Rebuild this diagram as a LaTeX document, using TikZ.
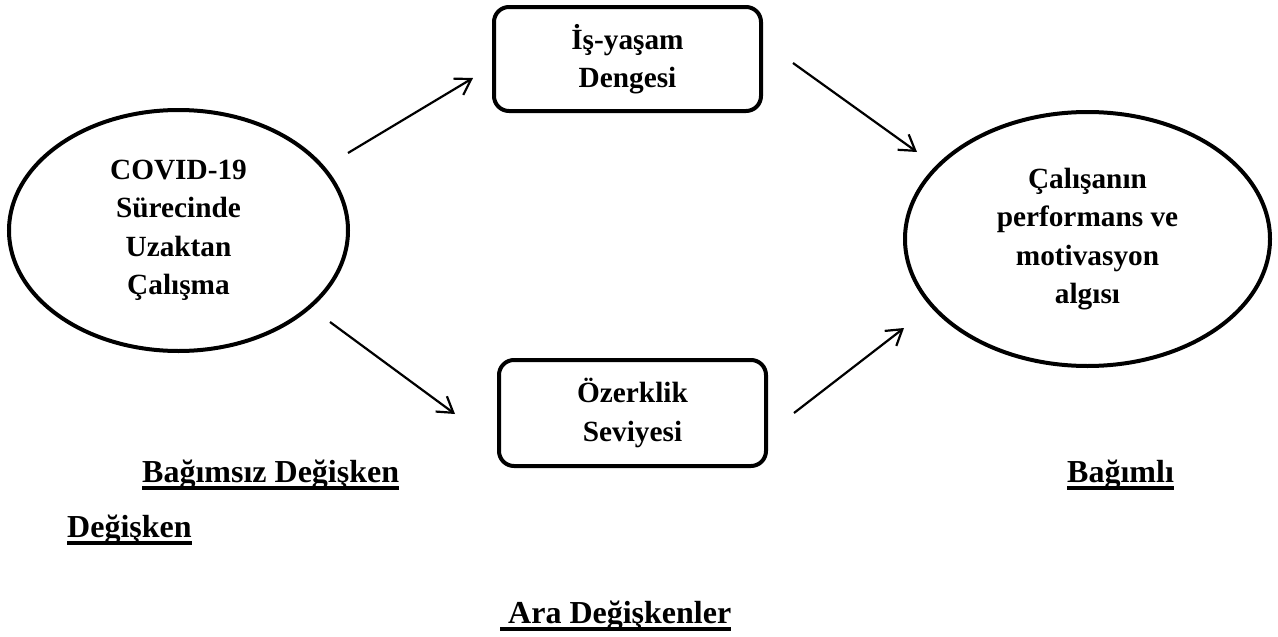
\documentclass[tikz,border=0pt]{standalone}
\usepackage{fontspec}
\setmainfont{Liberation Serif}
\usetikzlibrary{shapes.geometric,arrows.meta}
\begin{document}
\begin{tikzpicture}[x=1pt,y=-1pt,
  innertext/.style={font=\fontsize{29.3}{38.5}\selectfont\bfseries, align=center},
  oval/.style={ellipse, draw, line width=4pt, innertext, inner sep=0pt},
  rbox/.style={draw, line width=4pt, rounded corners=15pt, innertext, inner sep=0pt},
  lbl/.style={font=\fontsize{32}{38}\selectfont\bfseries, inner sep=0pt, anchor=base west},
  arr/.style={line width=2.2pt, -{Straight Barb[length=15pt,width=19pt,line width=2.2pt]}},
  ul/.style={line width=3.3pt}
]
\useasboundingbox (0,0) rectangle (1278,637);

\node[oval, minimum width=339pt, minimum height=241pt] (iv) at (178.5,230.5)
  {COVID-19\\Sürecinde\\Uzaktan\\Çalışma};
\node[oval, minimum width=365pt, minimum height=254pt] (dv) at (1087.5,239)
  {Çalışanın\\performans ve\\motivasyon\\algısı};
\node[rbox, minimum width=267pt, minimum height=104pt] (m1) at (627.5,59)
  {İş-yaşam\\Dengesi};
\node[rbox, minimum width=267pt, minimum height=106pt] (m2) at (632.5,413)
  {Özerklik\\Seviyesi};

\coordinate (a1s) at (348,153); \coordinate (a1e) at (473,78);
\coordinate (a2s) at (793,63);  \coordinate (a2e) at (917,152);
\coordinate (a3s) at (330,322); \coordinate (a3e) at (455,414);
\coordinate (a4s) at (794,413); \coordinate (a4e) at (904,328);
\draw[arr] (a1s) -- (a1e);
\draw[arr] (a2s) -- (a2e);
\draw[arr] (a3s) -- (a3e);
\draw[arr] (a4s) -- (a4e);

\node[lbl] (l1) at (142,482) {Bağımsız Değişken};
\node[lbl] (l2) at (1067,482) {Bağımlı};
\node[lbl] (l3) at (67,537) {Değişken};
\node[lbl] (l4) at (500,623) {\ Ara Değişkenler};
\foreach \n in {l1,l2,l3,l4}
  \draw[ul] ([yshift=-6pt]\n.base west) -- ([yshift=-6pt]\n.base east);
\end{tikzpicture}
\end{document}
